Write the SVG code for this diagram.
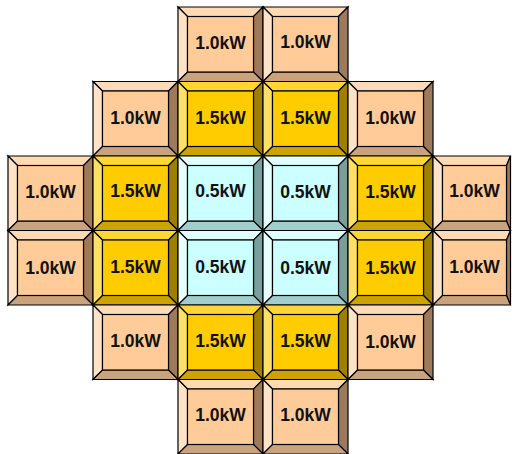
<svg xmlns="http://www.w3.org/2000/svg" width="512" height="454" viewBox="0 0 512 454">
<style>
polygon, rect { stroke:#000; stroke-width:1.2; stroke-linejoin:miter; }
.t{fill:var(--t)}.l{fill:var(--l)}.f{fill:var(--f)}.r{fill:var(--r)}.b{fill:var(--b)}
text { font-family:"Liberation Sans", Arial, sans-serif; font-weight:bold; font-size:17.5px; fill:#111; text-anchor:middle; }
.p{--t:#FFDAB5;--l:#FFE3C8;--f:#FFCC99;--r:#9C7A5B;--b:#C9A27E}
.y{--t:#FFD633;--l:#FFE066;--f:#FFCC00;--r:#9E7F00;--b:#CCA300}
.c{--t:#E0FFFF;--l:#E8FFFF;--f:#CCFFFF;--r:#7A9E9E;--b:#A3CCCC}
</style>
<defs>
<g id="tile">
<polygon class="t" points="0,0 85,0 75.5,9.5 9.5,9.5"/>
<polygon class="l" points="0,0 9.5,9.5 9.5,65 0,74.5"/>
<polygon class="r" points="85,0 85,74.5 75.5,65 75.5,9.5"/>
<polygon class="b" points="0,74.5 85,74.5 75.5,65 9.5,65"/>
<rect class="f" x="9.5" y="9.5" width="66" height="55.5"/>
</g>
<g id="tileR">
<polygon class="t" points="0,0 77.5,0 73.5,9.5 9.5,9.5"/>
<polygon class="l" points="0,0 9.5,9.5 9.5,65 0,74.5"/>
<polygon class="r" points="77.5,0 77.5,74.5 73.5,65 73.5,9.5"/>
<polygon class="b" points="0,74.5 77.5,74.5 73.5,65 9.5,65"/>
<rect class="f" x="9.5" y="9.5" width="64" height="55.5"/>
</g>
</defs>
<g id="connectors"/>
<g id="r0c2" class="p"><use href="#tile" x="178" y="7"/><text x="220.5" y="49">1.0kW</text></g>
<g id="r0c3" class="p"><use href="#tile" x="263" y="7"/><text x="305.5" y="48">1.0kW</text></g>

<g id="r1c1" class="p"><use href="#tile" x="93" y="81.5"/><text x="135.5" y="124">1.0kW</text></g>
<g id="r1c2" class="y"><use href="#tile" x="178" y="81.5"/><text x="220.5" y="124">1.5kW</text></g>
<g id="r1c3" class="y"><use href="#tile" x="263" y="81.5"/><text x="305.5" y="124">1.5kW</text></g>
<g id="r1c4" class="p"><use href="#tile" x="348" y="81.5"/><text x="390.5" y="124">1.0kW</text></g>

<g id="r2c0" class="p"><use href="#tile" x="8" y="156"/><text x="50.5" y="198">1.0kW</text></g>
<g id="r2c1" class="y"><use href="#tile" x="93" y="156"/><text x="135.5" y="197">1.5kW</text></g>
<g id="r2c2" class="c"><use href="#tile" x="178" y="156"/><text x="220.5" y="197">0.5kW</text></g>
<g id="r2c3" class="c"><use href="#tile" x="263" y="156"/><text x="305.5" y="198">0.5kW</text></g>
<g id="r2c4" class="y"><use href="#tile" x="348" y="156"/><text x="390.5" y="198">1.5kW</text></g>
<g id="r2c5" class="p"><use href="#tileR" x="433" y="156"/><text x="474.5" y="197">1.0kW</text></g>

<g id="r3c0" class="p"><use href="#tile" x="8" y="230.5"/><text x="50.5" y="274">1.0kW</text></g>
<g id="r3c1" class="y"><use href="#tile" x="93" y="230.5"/><text x="135.5" y="273">1.5kW</text></g>
<g id="r3c2" class="c"><use href="#tile" x="178" y="230.5"/><text x="220.5" y="273">0.5kW</text></g>
<g id="r3c3" class="c"><use href="#tile" x="263" y="230.5"/><text x="305.5" y="274">0.5kW</text></g>
<g id="r3c4" class="y"><use href="#tile" x="348" y="230.5"/><text x="390.5" y="274">1.5kW</text></g>
<g id="r3c5" class="p"><use href="#tileR" x="433" y="230.5"/><text x="474.5" y="273">1.0kW</text></g>

<g id="r4c1" class="p"><use href="#tile" x="93" y="305"/><text x="135.5" y="347">1.0kW</text></g>
<g id="r4c2" class="y"><use href="#tile" x="178" y="305"/><text x="220.5" y="347">1.5kW</text></g>
<g id="r4c3" class="y"><use href="#tile" x="263" y="305"/><text x="305.5" y="347">1.5kW</text></g>
<g id="r4c4" class="p"><use href="#tile" x="348" y="305"/><text x="390.5" y="348">1.0kW</text></g>

<g id="r5c2" class="p"><use href="#tile" x="178" y="379.5"/><text x="220.5" y="421">1.0kW</text></g>
<g id="r5c3" class="p"><use href="#tile" x="263" y="379.5"/><text x="305.5" y="421">1.0kW</text></g>
</svg>
